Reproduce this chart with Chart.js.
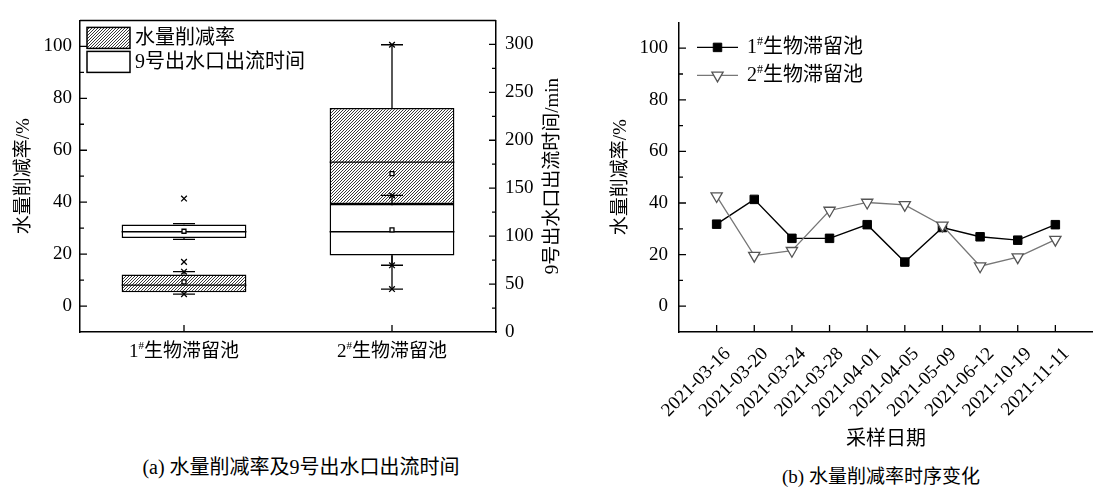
<!DOCTYPE html>
<html><head><meta charset="utf-8">
<script src="https://cdn.jsdelivr.net/npm/chart.js@4.4.0/dist/chart.umd.min.js"></script>
<style>
html,body{margin:0;padding:0;background:#fff;width:1093px;height:489px;overflow:hidden;position:relative}
#c1{position:absolute;left:0;top:0}
#c2{position:absolute;left:600px;top:0}
.cap{position:absolute;font-family:'Liberation Serif','Noto Sans CJK SC',serif;font-size:20px;color:#000;white-space:nowrap;transform:translateX(-50%);line-height:24px}
</style></head><body>
<canvas id="c1" width="600" height="400"></canvas>
<canvas id="c2" width="493" height="456"></canvas>
<div class="cap" style="left:301px;top:455px">(a) 水量削减率及9号出水口出流时间</div>
<div class="cap" style="left:881px;top:465px;font-size:19px">(b) 水量削减率时序变化</div>
<script>
const FONT = "'Liberation Serif', 'Noto Sans CJK SC', serif";

// ---- (a) box plots ----
const groups = ['1#生物滞留池', '2#生物滞留池'];
// hatched boxes (legend "水量削减率"), plotted on right axis (min)
const hatchQ1 = [41.4, 133.4];
const hatchQ3 = [59.9, 233.7];
const hatchMedian = [48.9, 177.2];
const hatchMean = [52.2, 165.2];
const hatchLow = [39.4, 44.8];
const hatchHigh = [62.9, 299.6];
// white boxes (legend "9号出水口出流时间"), plotted on left axis (%)
const whiteQ1 = [26.2, 19.5];
const whiteQ3 = [31.4, 39.3];
const whiteMedian = [28.6, 28.6];
const whiteMean = [28.8, 29.3];
const whiteLow = [25.7, 15.7];
const whiteHigh = [31.7, 42.6];
const whiteMin = [17.0, 15.7];
const whiteMax = [41.4, 42.6];

// ---- (b) time series ----
const dates = ['2021-03-16','2021-03-20','2021-03-24','2021-03-28','2021-04-01','2021-04-05','2021-05-09','2021-06-12','2021-10-19','2021-11-11'];
const pond1 = [31.8, 41.4, 26.3, 26.3, 31.6, 17.1, 30.5, 26.9, 25.6, 31.6];
const pond2 = [42.7, 19.6, 21.5, 37.1, 40.2, 39.3, 31.3, 15.5, 19.0, 25.8];

const rateMin = -10, rateMax = 110, rateStep = 10, rateLabelStep = 20;
const timeMin = 0, timeMax = 325, timeStep = 25, timeLabelStep = 50;

function makeHatch(ctx) {
  const n = 3;
  const c = document.createElement('canvas'); c.width = n; c.height = n;
  const g = c.getContext('2d');
  g.fillStyle = '#fff'; g.fillRect(0, 0, n, n);
  g.strokeStyle = '#222'; g.lineWidth = 0.9;
  g.beginPath();
  g.moveTo(0, n); g.lineTo(n, 0);
  g.moveTo(-1, 1); g.lineTo(1, -1);
  g.moveTo(n - 1, n + 1); g.lineTo(n + 1, n - 1);
  g.stroke();
  return ctx.createPattern(c, 'repeat');
}

function supWidth(ctx, text, size) {
  const parts = text.split('#');
  let w = 0;
  parts.forEach((p, i) => {
    ctx.font = size + 'px ' + FONT; w += ctx.measureText(p).width;
    if (i < parts.length - 1) { ctx.font = Math.round(size * 0.6) + 'px ' + FONT; w += ctx.measureText('#').width; }
  });
  return w;
}

function drawSup(ctx, text, x, y, size, color) {
  const parts = text.split('#');
  ctx.fillStyle = color || '#000';
  ctx.textBaseline = 'middle'; ctx.textAlign = 'left';
  let cx = x;
  for (let i = 0; i < parts.length; i++) {
    ctx.font = size + 'px ' + FONT;
    ctx.fillText(parts[i], cx, y);
    cx += ctx.measureText(parts[i]).width;
    if (i < parts.length - 1) {
      ctx.font = Math.round(size * 0.6) + 'px ' + FONT;
      ctx.fillText('#', cx, y - size * 0.3);
      cx += ctx.measureText('#').width;
    }
  }
}

const inwardTicks = {
  id: 'inwardTicks',
  afterDraw(chart) {
    const ctx = chart.ctx, ca = chart.chartArea;
    ctx.save(); ctx.strokeStyle = '#000'; ctx.lineWidth = 1.3;
    ctx.beginPath();
    Object.values(chart.scales).forEach(s => {
      if (s.axis === 'y') {
        const left = s.position === 'left';
        const x0 = left ? ca.left : ca.right, dir = left ? 1 : -1;
        s.ticks.forEach(t => {
          const y = s.getPixelForValue(t.value);
          if (y < ca.top + 1 || y > ca.bottom - 1) return;
          const len = t.label !== '' ? 7 : 4;
          ctx.moveTo(x0, y); ctx.lineTo(x0 + dir * len, y);
        });
      } else {
        s.ticks.forEach((t, i) => {
          if (!t.label) return;
          const x = s.getPixelForTick(i);
          ctx.moveTo(x, ca.bottom); ctx.lineTo(x, ca.bottom - 7);
        });
      }
    });
    ctx.stroke(); ctx.restore();
  }
};

const boxWhiskers = {
  id: 'boxWhiskers',
  afterDatasetDraw(chart, args) {
    const ds = chart.data.datasets[args.index];
    if (!ds.box) return;
    const s = chart.scales[ds.yAxisID], ctx = chart.ctx, b = ds.box;
    ctx.save(); ctx.strokeStyle = '#000'; ctx.lineWidth = 1.3;
    ctx.beginPath();
    args.meta.data.forEach((bar, i) => {
      const x = bar.x, hw = bar.width / 2;
      const yMed = s.getPixelForValue(b.median[i]);
      const yQ1 = s.getPixelForValue(b.q1[i]), yQ3 = s.getPixelForValue(b.q3[i]);
      const yLo = s.getPixelForValue(b.low[i]), yHi = s.getPixelForValue(b.high[i]);
      ctx.moveTo(x - hw, yMed); ctx.lineTo(x + hw, yMed);
      ctx.moveTo(x, yQ3); ctx.lineTo(x, yHi);
      ctx.moveTo(x, yQ1); ctx.lineTo(x, yLo);
      ctx.moveTo(x - 11, yHi); ctx.lineTo(x + 11, yHi);
      ctx.moveTo(x - 11, yLo); ctx.lineTo(x + 11, yLo);
    });
    ctx.stroke(); ctx.restore();
  }
};

const frameAndLegendA = {
  id: 'frameAndLegendA',
  afterDraw(chart) {
    const ctx = chart.ctx, ca = chart.chartArea;
    ctx.save();
    ctx.strokeStyle = '#000'; ctx.lineWidth = 1.5;
    ctx.beginPath(); ctx.moveTo(ca.left, ca.top); ctx.lineTo(ca.right, ca.top); ctx.stroke();
    // category labels with superscript '#'
    const xs = chart.scales.x;
    xs.ticks.forEach((t, i) => {
      const lbl = groups[i];
      const w = supWidth(ctx, lbl, 19);
      drawSup(ctx, lbl, xs.getPixelForTick(i) - w / 2, ca.bottom + 20, 19);
    });
    // legend
    const items = chart.data.datasets.filter(d => d.box);
    items.forEach((d, i) => {
      const bx = ca.left + 7, by = ca.top + 7 + i * 24;
      ctx.fillStyle = d.backgroundColor; ctx.fillRect(bx, by, 43, 21);
      ctx.lineWidth = 1.5; ctx.strokeStyle = '#000'; ctx.strokeRect(bx, by, 43, 21);
      drawSup(ctx, d.label, bx + 48, by + 11, 20);
    });
    // right axis title (reads bottom to top)
    ctx.translate(ca.right + 57, (ca.top + ca.bottom) / 2);
    ctx.rotate(-Math.PI / 2);
    ctx.font = '19px ' + FONT; ctx.fillStyle = '#000';
    ctx.textAlign = 'center'; ctx.textBaseline = 'middle';
    ctx.fillText('9号出水口出流时间/min', 0, 0);
    ctx.restore();
  }
};

const legendB = {
  id: 'legendB',
  afterDraw(chart) {
    const ctx = chart.ctx, ca = chart.chartArea;
    ctx.save();
    chart.data.datasets.forEach((ds, i) => {
      const y = ca.top + 25 + i * 28, x0 = ca.left + 18;
      ctx.strokeStyle = ds.borderColor; ctx.lineWidth = ds.borderWidth;
      ctx.beginPath(); ctx.moveTo(x0, y); ctx.lineTo(x0 + 41, y); ctx.stroke();
      ctx.fillStyle = ds.pointBackgroundColor; ctx.strokeStyle = ds.pointBorderColor;
      ctx.lineWidth = ds.pointBorderWidth;
      Chart.helpers.drawPoint(ctx, {pointStyle: ds.pointStyle, rotation: ds.pointRotation || 0, radius: ds.pointRadius, borderWidth: ds.pointBorderWidth}, x0 + 20.5, y);
      drawSup(ctx, ds.label, x0 + 50, y, 20);
    });
    ctx.restore();
  }
};

const axisBorder = {display: true, color: '#000', width: 1.5};
const noGrid = {display: false, drawTicks: false};
const tickFont = {family: FONT, size: 19};
const titleFont = {family: FONT, size: 19};

const c1 = document.getElementById('c1');
const hatch = makeHatch(c1.getContext('2d'));

function markerSet(data, axis, style, radius, fill) {
  return {type: 'line', data: data, yAxisID: axis, showLine: false, pointStyle: style,
    pointRadius: radius, pointBackgroundColor: fill, pointBorderColor: '#000', pointBorderWidth: 1.3, order: 1};
}

new Chart(c1, {
  type: 'bar',
  data: {
    labels: groups,
    datasets: [
      {label: '水量削减率', data: groups.map((_, i) => [hatchQ1[i], hatchQ3[i]]), yAxisID: 'y2',
        backgroundColor: hatch, borderColor: '#000', borderWidth: 1.5, borderSkipped: false, grouped: false,
        categoryPercentage: 1, barPercentage: 0.6, order: 10,
        box: {q1: hatchQ1, q3: hatchQ3, median: hatchMedian, low: hatchLow, high: hatchHigh}},
      {label: '9号出水口出流时间', data: groups.map((_, i) => [whiteQ1[i], whiteQ3[i]]), yAxisID: 'y',
        backgroundColor: '#fff', borderColor: '#000', borderWidth: 1.5, borderSkipped: false, grouped: false,
        categoryPercentage: 1, barPercentage: 0.6, order: 9,
        box: {q1: whiteQ1, q3: whiteQ3, median: whiteMedian, low: whiteLow, high: whiteHigh}},
      markerSet(hatchMean, 'y2', 'rect', 2.8, '#fff'),
      markerSet(whiteMean, 'y', 'rect', 2.8, '#fff'),
      markerSet(hatchLow, 'y2', 'crossRot', 4, '#000'),
      markerSet(hatchHigh, 'y2', 'crossRot', 4, '#000'),
      markerSet(whiteMin, 'y', 'crossRot', 4, '#000'),
      markerSet(whiteMax, 'y', 'crossRot', 4, '#000')
    ]
  },
  options: {
    responsive: false, devicePixelRatio: 1, animation: false, events: [],
    layout: {autoPadding: false, padding: {left: 9, right: 31, top: 8, bottom: 0}},
    plugins: {legend: {display: false}, tooltip: {enabled: false}},
    scales: {
      x: {type: 'category', offset: true, grid: noGrid, border: axisBorder,
        ticks: {display: false},
        afterFit(s) { s.height = 68; s.paddingLeft = 0; s.paddingRight = 0; }},
      y: {position: 'left', min: rateMin, max: rateMax, grid: noGrid, border: axisBorder,
        ticks: {stepSize: rateStep, autoSkip: false, callback: v => v % rateLabelStep === 0 ? String(v) : '', font: tickFont, color: '#000', padding: 8},
        title: {display: true, text: '水量削减率/%', font: titleFont, color: '#000', padding: {top: 4, bottom: 4}},
        afterFit(s) { s.width = 71; }},
      y2: {position: 'right', min: timeMin, max: timeMax, grid: noGrid, border: axisBorder,
        ticks: {stepSize: timeStep, autoSkip: false, callback: v => v % timeLabelStep === 0 ? String(v) : '', font: tickFont, color: '#000', padding: 9},
        afterFit(s) { s.width = 73; }}
    }
  },
  plugins: [boxWhiskers, inwardTicks, frameAndLegendA]
});

const xLabels = [''].concat(dates).concat(['']);
new Chart(document.getElementById('c2'), {
  type: 'line',
  data: {
    labels: xLabels,
    datasets: [
      {label: '1#生物滞留池', data: [null].concat(pond1).concat([null]), borderColor: '#000', borderWidth: 1.4,
        pointStyle: 'rect', pointRadius: 6, pointBackgroundColor: '#000', pointBorderColor: '#000', pointBorderWidth: 1, tension: 0, order: 2},
      {label: '2#生物滞留池', data: [null].concat(pond2).concat([null]), borderColor: '#777', borderWidth: 1.3,
        pointStyle: 'triangle', pointRotation: 180, pointRadius: 6.5, pointBackgroundColor: '#fff', pointBorderColor: '#555', pointBorderWidth: 1.3, tension: 0, order: 1}
    ]
  },
  options: {
    responsive: false, devicePixelRatio: 1, animation: false, events: [],
    layout: {autoPadding: false, padding: {left: 6, right: 0, top: 8, bottom: 0}},
    plugins: {legend: {display: false}, tooltip: {enabled: false}},
    scales: {
      x: {type: 'category', offset: false, grid: noGrid, border: axisBorder,
        ticks: {font: tickFont, color: '#000', minRotation: 45, maxRotation: 45, autoSkip: false, padding: 11, labelOffset: 11},
        title: {display: true, text: '采样日期', font: {family: FONT, size: 20}, color: '#000', padding: {top: 4, bottom: 4}},
        afterFit(s) { s.height = 124; s.paddingLeft = 0; s.paddingRight = 0; }},
      y: {position: 'left', min: rateMin, max: rateMax, grid: noGrid, border: axisBorder,
        ticks: {stepSize: rateStep, autoSkip: false, callback: v => v % rateLabelStep === 0 ? String(v) : '', font: tickFont, color: '#000', padding: 11},
        title: {display: true, text: '水量削减率/%', font: titleFont, color: '#000', padding: {top: 4, bottom: 4}},
        afterFit(s) { s.width = 73; }}
    }
  },
  plugins: [inwardTicks, legendB]
});
</script>
</body></html>
